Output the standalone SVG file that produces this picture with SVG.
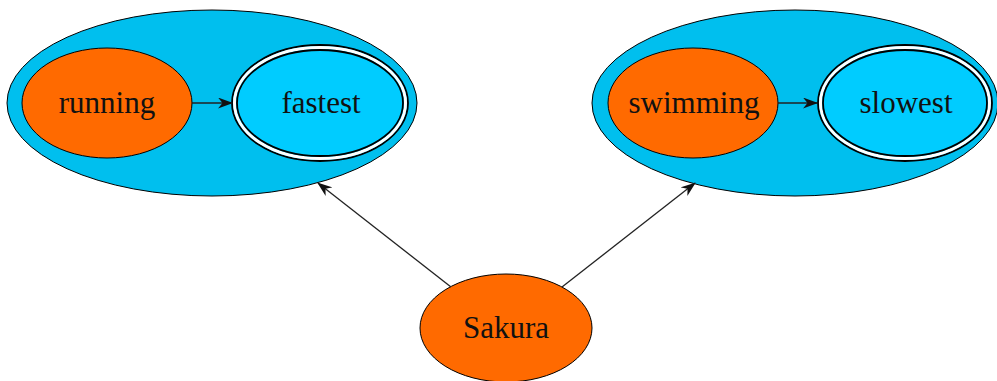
<svg xmlns="http://www.w3.org/2000/svg" width="997" height="381" viewBox="0 0 997 381">
  <style>
    .cluster { fill: #00bfee; stroke: #000; stroke-width: 1; }
    .task { fill: #ff6a00; stroke: #000; stroke-width: 1; }
    .goal { fill: #00ccff; stroke: #000; stroke-width: 1.8; }
    .ring { fill: none; stroke: #fff; stroke-width: 3; }
    .ringline { fill: none; stroke: #000; stroke-width: 1.8; }
    .label { font-family: "Liberation Serif", "DejaVu Serif", serif; font-size: 31px; fill: #111; text-anchor: middle; }
    .edge { stroke: #222; stroke-width: 1.3; fill: none; marker-end: url(#arrow); }
  </style>
  <defs>
    <marker id="arrow" viewBox="0 0 15 11" refX="14" refY="5.5" markerWidth="15" markerHeight="11" markerUnits="userSpaceOnUse" orient="auto">
      <path d="M0,0 L15,5.5 L0,11 L4.5,5.5 Z" fill="#111"/>
    </marker>
  </defs>

  <!-- left cluster: running -> fastest -->
  <g id="cluster-running">
    <ellipse class="cluster" cx="212" cy="103" rx="205" ry="93"/>
  </g>
  <g id="running">
    <ellipse class="task" cx="107" cy="103" rx="85" ry="55"/>
    <text class="label" x="107" y="113">running</text>
  </g>
  <g id="fastest">
    <ellipse class="ringline" cx="320" cy="103" rx="88" ry="58"/>
    <ellipse class="ring" cx="320" cy="103" rx="85.5" ry="55.5"/>
    <ellipse class="goal" cx="320" cy="103" rx="83" ry="53"/>
    <text class="label" x="321" y="113">fastest</text>
  </g>

  <!-- right cluster: swimming -> slowest -->
  <g id="cluster-swimming">
    <ellipse class="cluster" cx="795" cy="103" rx="203" ry="93"/>
  </g>
  <g id="swimming">
    <ellipse class="task" cx="693" cy="103" rx="85" ry="55"/>
    <text class="label" x="694" y="113">swimming</text>
  </g>
  <g id="slowest">
    <ellipse class="ringline" cx="905" cy="103" rx="87" ry="58"/>
    <ellipse class="ring" cx="905" cy="103" rx="84.5" ry="55.5"/>
    <ellipse class="goal" cx="905" cy="103" rx="82" ry="53"/>
    <text class="label" x="906" y="113">slowest</text>
  </g>

  <!-- root -->
  <g id="sakura">
    <ellipse class="task" cx="506" cy="328" rx="86" ry="54"/>
    <text class="label" x="506" y="338">Sakura</text>
  </g>

  <g id="connectors">
    <line class="edge" x1="192" y1="103" x2="232" y2="103"/>
    <line class="edge" x1="778" y1="103" x2="817" y2="103"/>
    <line class="edge" x1="451" y1="287" x2="318" y2="183"/>
    <line class="edge" x1="562" y1="287" x2="695" y2="183"/>
  </g>
</svg>
